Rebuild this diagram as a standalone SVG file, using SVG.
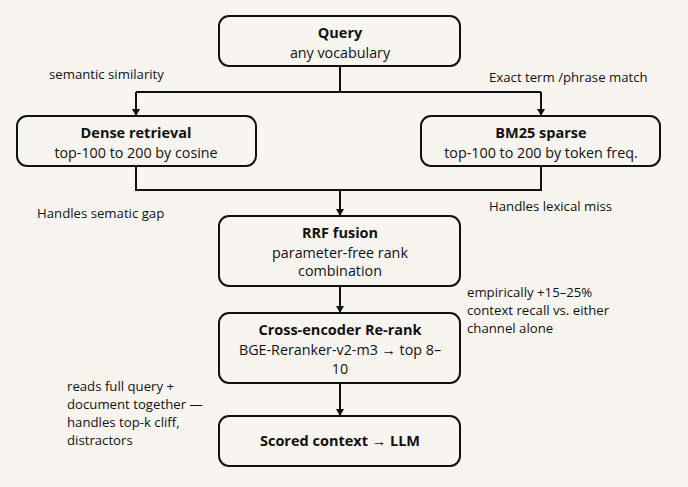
<svg xmlns="http://www.w3.org/2000/svg" width="688" height="487" viewBox="0 0 688 487">
<style>
.box{fill:#f8f5f0;stroke:#111;stroke-width:2}
.t{font-family:"Open Sans","Noto Sans",sans-serif;font-size:14.3px;fill:#111;text-anchor:middle}
.b{font-weight:bold;font-size:14.5px}
.n{font-family:"Open Sans","Noto Sans",sans-serif;font-size:13.2px;fill:#111}
.c{fill:none;stroke:#111;stroke-width:2}
</style>
<defs><marker id="a" markerWidth="8" markerHeight="8" refX="6" refY="4" orient="auto" markerUnits="userSpaceOnUse"><path d="M0,0L7,4L0,8z" fill="#111"/></marker></defs>
<rect width="688" height="487" fill="#f8f5f0"/>
<g id="connectors">
<path class="c" d="M340,66V92M136,92H541"/>
<path class="c" d="M136,92V115" marker-end="url(#a)"/>
<path class="c" d="M541,92V115" marker-end="url(#a)"/>
<path class="c" d="M136,166V190H541V166"/>
<path class="c" d="M340,190V215" marker-end="url(#a)"/>
<path class="c" d="M340,286V312" marker-end="url(#a)"/>
<path class="c" d="M340,383V415" marker-end="url(#a)"/>
</g>
<g id="query"><rect class="box" x="219" y="16" width="241" height="50" rx="10"/><text class="t b" x="340" y="38">Query</text><text class="t" x="340" y="58">any vocabulary</text></g>
<g id="dense"><rect class="box" x="17" y="116" width="239" height="50" rx="10"/><text class="t b" x="136" y="138">Dense retrieval</text><text class="t" x="136" y="158">top-100 to 200 by cosine</text></g>
<g id="bm25"><rect class="box" x="421" y="116" width="239" height="50" rx="10"/><text class="t b" x="541" y="138">BM25 sparse</text><text class="t" x="541" y="158">top-100 to 200 by token freq.</text></g>
<g id="rrf"><rect class="box" x="219" y="216" width="241" height="70" rx="10"/><text class="t b" x="340" y="238">RRF fusion</text><text class="t" x="340" y="258">parameter-free rank</text><text class="t" x="340" y="276">combination</text></g>
<g id="rerank"><rect class="box" x="219" y="313" width="241" height="70" rx="10"/><text class="t b" x="340" y="335">Cross-encoder Re-rank</text><text class="t" x="340" y="355">BGE-Reranker-v2-m3 → top 8–</text><text class="t" x="340" y="374">10</text></g>
<g id="scored"><rect class="box" x="219" y="416" width="241" height="50" rx="10"/><text class="t b" x="340" y="446">Scored context → LLM</text></g>
<g id="notes">
<text class="n" x="49" y="79">semantic similarity</text>
<text class="n" x="489" y="82">Exact term /phrase match</text>
<text class="n" x="37" y="218">Handles sematic gap</text>
<text class="n" x="489" y="211">Handles lexical miss</text>
<text class="n" x="467" y="297">empirically +15–25%</text>
<text class="n" x="467" y="315">context recall vs. either</text>
<text class="n" x="467" y="333">channel alone</text>
<text class="n" x="67" y="391">reads full query +</text>
<text class="n" x="67" y="409">document together —</text>
<text class="n" x="67" y="427">handles top-k cliff,</text>
<text class="n" x="67" y="445">distractors</text>
</g>
</svg>
